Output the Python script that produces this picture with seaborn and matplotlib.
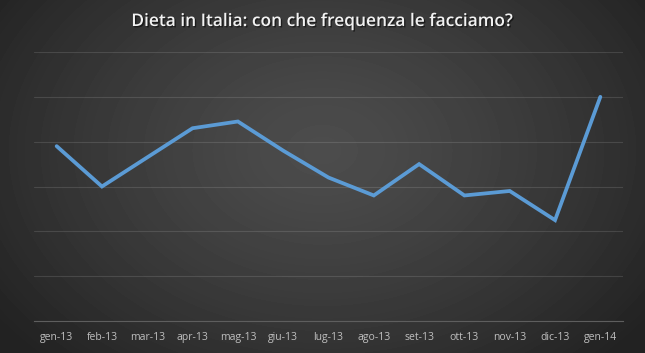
import numpy as np
import pandas as pd
import seaborn as sns
import matplotlib
matplotlib.use("Agg")
from matplotlib import pyplot as plt
import matplotlib.patheffects as pe

# data (Google-Trends-like index, max = 100)
mesi = ["gen-13", "feb-13", "mar-13", "apr-13", "mag-13", "giu-13", "lug-13",
        "ago-13", "set-13", "ott-13", "nov-13", "dic-13", "gen-14"]
valori = [78, 60, 73, 86, 89, 76, 64, 56, 70, 56, 58, 45, 100]

df = pd.DataFrame({"mese": np.arange(len(mesi)), "valore": valori})

sns.set_style("dark")
plt.rcParams['font.family'] = ['Open Sans', 'DejaVu Sans']

fig = plt.figure(figsize=(6.45, 3.53), dpi=100)

# radial background gradient
bg = fig.add_axes([0, 0, 1, 1], zorder=0)
yy, xx = np.mgrid[0:353, 0:645]
r = np.sqrt(((xx - 322) / 400.0) ** 2 + ((yy - 150) / 290.0) ** 2)
r = np.clip(r, 0, 1)
img = 0.30 - 0.165 * r ** 1.3
bg.imshow(img, cmap="gray", vmin=0, vmax=1, aspect="auto", interpolation="bilinear")
bg.axis("off")

ax = fig.add_axes([34 / 645, 32 / 353, 589 / 645, 269 / 353], zorder=1)
ax.patch.set_alpha(0)

sns.lineplot(data=df, x="mese", y="valore", ax=ax, color="#5b9bd5",
             linewidth=2.7, solid_joinstyle="miter")

ax.set_xlim(-0.5, len(mesi) - 0.5)
ax.set_ylim(0, 120)
ax.set_yticks(np.arange(0, 121, 20))
ax.set_yticklabels([])
ax.grid(axis="y", color="#ffffff", alpha=0.12, linewidth=0.8)
ax.grid(axis="x", visible=False)
ax.set_xticks(np.arange(len(mesi)))
ax.set_xticklabels(mesi)
ax.set_xticks(np.arange(-0.5, len(mesi), 1), minor=True)
ax.tick_params(axis="x", which="major", length=0, pad=8, labelsize=7.5, labelcolor="#bfbfbf")
ax.tick_params(axis="x", which="minor", length=3, color="#5e5e5e", width=0.7, direction="out")
ax.tick_params(axis="y", length=0)
ax.set_xlabel("")
ax.set_ylabel("")
for s in ["top", "left", "right"]:
    ax.spines[s].set_visible(False)
ax.spines["bottom"].set_color("#5e5e5e")
ax.spines["bottom"].set_linewidth(0.8)

fig.text(0.5, 1 - 22 / 353, "Dieta in Italia: con che frequenza le facciamo?",
         ha="center", va="center", color="#f2f2f2", fontsize=12.5, fontweight="semibold",
         path_effects=[pe.withSimplePatchShadow(offset=(1, -1), shadow_rgbFace="black", alpha=0.5)])

fig.savefig("out.png", dpi=100)
